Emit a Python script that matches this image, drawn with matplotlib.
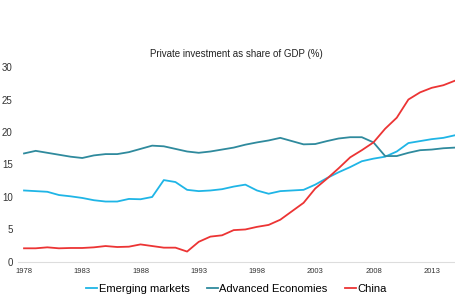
import matplotlib.pyplot as plt

plt.rcParams['font.family'] = ['Liberation Sans', 'DejaVu Sans']

years = list(range(1978, 2016))

emerging = [11.0, 10.9, 10.8, 10.3, 10.1, 9.85, 9.5, 9.3, 9.3, 9.7, 9.65, 10.0,
            12.6, 12.3, 11.1, 10.9, 11.0, 11.2, 11.6, 11.9, 11.0, 10.5, 10.9, 11.0,
            11.1, 11.9, 12.9, 13.8, 14.6, 15.5, 15.9, 16.2, 17.0, 18.3, 18.6, 18.9,
            19.1, 19.5]
advanced = [16.7, 17.1, 16.8, 16.5, 16.2, 16.0, 16.4, 16.6, 16.6, 16.9, 17.4, 17.9,
            17.8, 17.4, 17.0, 16.8, 17.0, 17.3, 17.6, 18.05, 18.4, 18.7, 19.1, 18.6,
            18.1, 18.15, 18.6, 19.0, 19.2, 19.2, 18.4, 16.3, 16.3, 16.8, 17.2, 17.3,
            17.5, 17.6]
china = [2.1, 2.1, 2.25, 2.1, 2.15, 2.15, 2.25, 2.45, 2.3, 2.35, 2.7, 2.45,
         2.2, 2.2, 1.6, 3.1, 3.9, 4.1, 4.9, 5.0, 5.4, 5.7, 6.5, 7.8,
         9.1, 11.3, 12.8, 14.4, 16.1, 17.2, 18.4, 20.5, 22.2, 25.0, 26.1, 26.8,
         27.2, 27.9]

xticks = [1978, 1983, 1988, 1993, 1998, 2003, 2008, 2013]

fig = plt.figure(figsize=(4.55, 2.94), dpi=100)
ax = fig.add_axes([0.04, 0.109, 0.96, 0.663])

ax.plot(years, emerging, color='#1fb5e6', lw=1.3, label='Emerging markets')
ax.plot(years, advanced, color='#2f8a9d', lw=1.3, label='Advanced Economies')
ax.plot(years, china, color='#ec3434', lw=1.3, label='China')

ax.set_xlim(1977.5, 2015)
ax.set_ylim(0, 30)
ax.set_yticks([0, 5, 10, 15, 20, 25, 30])
ax.set_xticks(xticks)
ax.tick_params(axis='y', length=0, labelsize=7, colors='#333333', pad=4)
ax.tick_params(axis='x', length=0, labelsize=5.5, colors='#333333', pad=4)
for s in ['top', 'right', 'left']:
    ax.spines[s].set_visible(False)
ax.spines['bottom'].set_color('#dddddd')

fig.text(0.52, 0.805, 'Private investment as share of GDP (%)', ha='center',
         fontsize=7, color='#222222')

fig.legend(loc='lower center', bbox_to_anchor=(0.52, -0.035), ncol=3, frameon=False,
           fontsize=8, handlelength=1.0, handletextpad=0.1, columnspacing=1.6)

fig.savefig('out.png', dpi=100)
